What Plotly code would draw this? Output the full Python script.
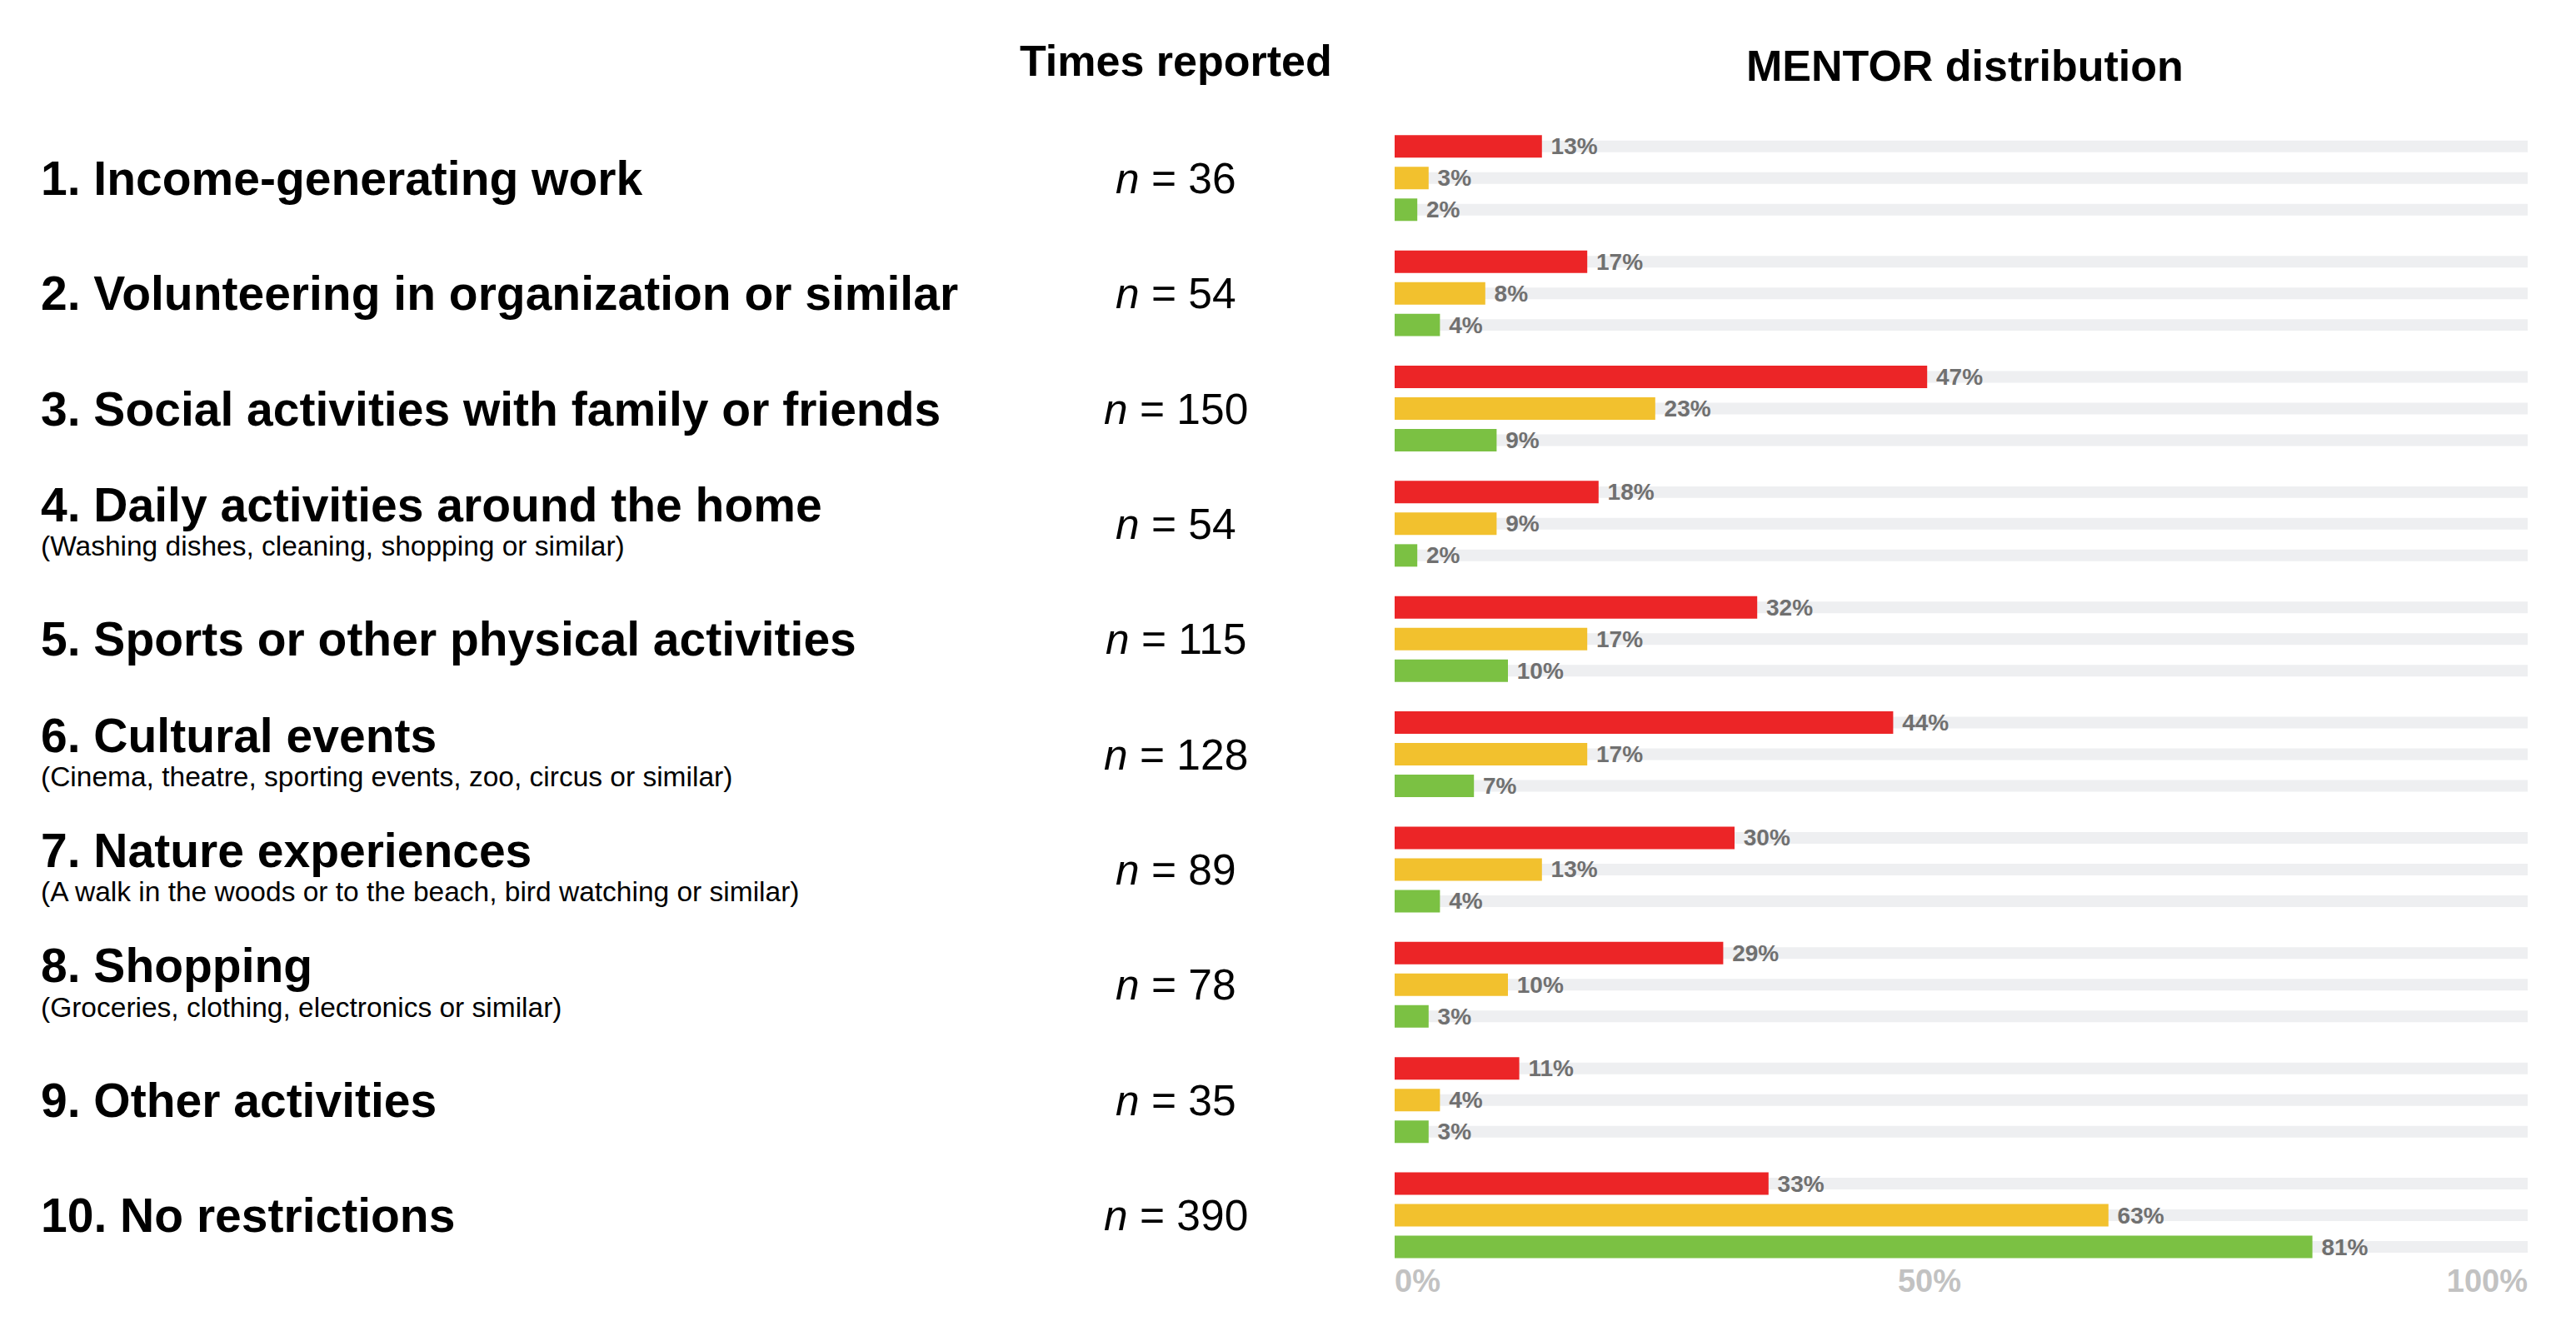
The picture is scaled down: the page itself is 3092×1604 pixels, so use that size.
import plotly.graph_objects as go

# ---------------- data ----------------
categories = [
    "1. Income-generating work",
    "2. Volunteering in organization or similar",
    "3. Social activities with family or friends",
    "4. Daily activities around the home",
    "5. Sports or other physical activities",
    "6. Cultural events",
    "7. Nature experiences",
    "8. Shopping",
    "9. Other activities",
    "10. No restrictions",
]
sublabels = [
    "",
    "",
    "",
    "(Washing dishes, cleaning, shopping or similar)",
    "",
    "(Cinema, theatre, sporting events, zoo, circus or similar)",
    "(A walk in the woods or to the beach, bird watching or similar)",
    "(Groceries, clothing, electronics or similar)",
    "",
    "",
]
times_reported = [36, 54, 150, 54, 115, 128, 89, 78, 35, 390]

red_pct = [13, 17, 47, 18, 32, 44, 30, 29, 11, 33]
yellow_pct = [3, 8, 23, 9, 17, 17, 13, 10, 4, 63]
green_pct = [2, 4, 9, 2, 10, 7, 4, 3, 3, 81]
track_max = [100] * len(categories)

tick_values = [0, 50, 100]
tick_labels = ["0%", "50%", "100%"]

header_left = "Times reported"
header_right = "MENTOR distribution"

# ---------------- style ----------------
W, H = 3092, 1604
FONT = "Liberation Sans, Arial, Helvetica, sans-serif"
colors = ["#EC2527", "#F2C12E", "#7BC143"]
track_color = "#EEEFF1"
series = [red_pct, yellow_pct, green_pct]

pitch = 0.2746      # spacing of bars inside one group (category units)
bar_w = 0.195       # thickness of a coloured bar
track_w = 0.101     # thickness of the grey track

fig = go.Figure()

# grey tracks: the first sits on the base axis (carries the "0%" label),
# everything else is drawn on the overlaying axis above it
for k in range(3):
    center = (k - 1) * pitch
    fig.add_trace(go.Bar(
        y=categories, x=track_max, orientation="h",
        width=track_w, offset=center - track_w / 2,
        marker=dict(color=track_color, line=dict(width=0)),
        hoverinfo="skip", showlegend=False,
        xaxis="x" if k == 0 else "x2",
    ))

# coloured bars
for k, vals in enumerate(series):
    center = (k - 1) * pitch
    fig.add_trace(go.Bar(
        y=categories, x=vals, orientation="h",
        width=bar_w, offset=center - bar_w / 2,
        marker=dict(color=colors[k], line=dict(width=0)),
        texttemplate="\u00a0%{x}%", textposition="outside",
        textfont=dict(family=FONT, size=28, color="#707070", weight="bold"),
        constraintext="none", cliponaxis=False,
        showlegend=False, xaxis="x2",
    ))

annotations = []
for cat, sub, n in zip(categories, sublabels, times_reported):
    annotations.append(dict(
        xref="paper", yref="y", x=47 / W, y=cat,
        xanchor="left", yanchor="middle",
        yshift=23 if sub else 0,
        text=cat, showarrow=False,
        font=dict(family=FONT, size=57, color="#000000", weight="bold"),
    ))
    if sub:
        annotations.append(dict(
            xref="paper", yref="y", x=47 / W, y=cat,
            xanchor="left", yanchor="middle", yshift=-27,
            text=sub, showarrow=False,
            font=dict(family=FONT, size=33.5, color="#000000"),
        ))
    annotations.append(dict(
        xref="paper", yref="y", x=1411 / W, y=cat,
        xanchor="center", yanchor="middle",
        text=f"<i>n</i> = {n}", showarrow=False,
        font=dict(family=FONT, size=51.5, color="#000000"),
    ))

annotations.append(dict(
    xref="paper", yref="paper", x=1411 / W, y=1.0401,
    xanchor="center", yanchor="middle", text=header_left, showarrow=False,
    font=dict(family=FONT, size=52, color="#000000", weight="bold"),
))
annotations.append(dict(
    xref="paper", yref="paper", x=2358 / W, y=1.0354,
    xanchor="center", yanchor="middle", text=header_right, showarrow=False,
    font=dict(family=FONT, size=52, color="#000000", weight="bold"),
))

x_domain = [1674 / W, 3034 / W]
tick_font = dict(family=FONT, size=38, color="#c2c2c2", weight="bold")

fig.update_layout(
    template="none",
    width=W, height=H,
    margin=dict(l=0, r=0, t=128, b=92, pad=0, autoexpand=False),
    paper_bgcolor="#ffffff", plot_bgcolor="#ffffff",
    barmode="overlay",
    annotations=annotations,
    xaxis=dict(
        domain=x_domain, range=[0, 100],
        tickvals=tick_values[:1], ticktext=tick_labels[:1],
        ticklabelposition="outside right",
        showgrid=False, zeroline=False, showline=False, ticks="",
        tickfont=tick_font, automargin=False, fixedrange=True,
    ),
    xaxis2=dict(
        domain=x_domain, range=[0, 100], overlaying="x", side="bottom",
        tickvals=tick_values[1:], ticktext=tick_labels[1:],
        ticklabelposition="outside left",
        showgrid=False, zeroline=False, showline=False, ticks="",
        tickfont=tick_font, automargin=False, fixedrange=True,
    ),
    yaxis=dict(
        type="category", categoryorder="array", categoryarray=categories,
        range=[9.383, -0.62],
        showticklabels=False, showgrid=False, zeroline=False, showline=False,
        ticks="", automargin=False, fixedrange=True,
    ),
)

fig.write_html(
    "out.html",
    config={"displayModeBar": False},
    post_script="document.body.style.margin='0';document.body.style.overflow='hidden';",
)
